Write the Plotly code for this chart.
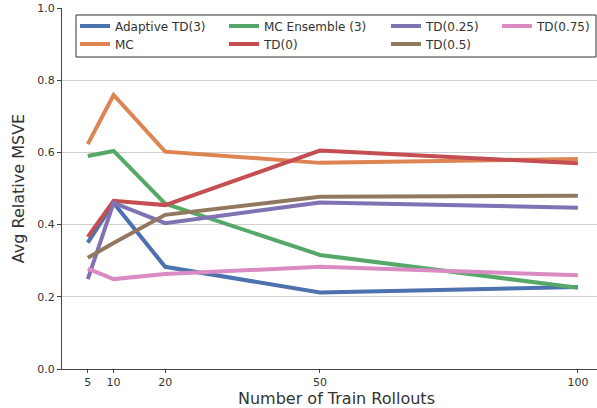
import plotly.graph_objects as go

# Number of training rollouts (x) and avg relative MSVE per method
rollouts = [5, 10, 20, 50, 100]

adaptive_td3 = [0.350, 0.460, 0.283, 0.212, 0.227]
mc = [0.623, 0.759, 0.602, 0.571, 0.582]
mc_ensemble3 = [0.590, 0.604, 0.458, 0.316, 0.225]
td0 = [0.366, 0.466, 0.454, 0.605, 0.570]
td025 = [0.249, 0.460, 0.404, 0.461, 0.447]
td05 = [0.308, 0.349, 0.427, 0.477, 0.480]
td075 = [0.278, 0.249, 0.263, 0.283, 0.260]

# name, values, colour, legend column, legend row
series = [
    ("Adaptive TD(3)", adaptive_td3, "#4C72B0", 0, 0),
    ("MC", mc, "#DD8452", 0, 1),
    ("MC Ensemble (3)", mc_ensemble3, "#55A868", 1, 0),
    ("TD(0)", td0, "#C44E52", 1, 1),
    ("TD(0.25)", td025, "#8172B3", 2, 0),
    ("TD(0.5)", td05, "#937860", 2, 1),
    ("TD(0.75)", td075, "#DA8BC3", 3, 0),
]

x_ticks = [5, 10, 20, 50, 100]
y_ticks = [0.0, 0.2, 0.4, 0.6, 0.8, 1.0]

TEXT = "#333333"
FONT = "DejaVu Sans"

W, H = 597, 408
L, R, T, B = 62, 0, 8, 39
pw, ph = W - L - R, H - T - B


def px_x(p):
    return (p - L) / pw


def px_y(p):
    return (H - B - p) / ph


# legend grid: left edge of each column and centre of each row (pixels)
col_px = [75, 224, 386, 497]
row_px = [26, 44]

fig = go.Figure()
legends = {}
for i, (name, vals, color, col, row) in enumerate(series):
    key = "legend" if i == 0 else f"legend{i + 1}"
    fig.add_trace(go.Scatter(
        x=rollouts, y=vals, mode="lines", name=name,
        line=dict(color=color, width=4),
        legend=key, showlegend=True,
    ))
    legends[key] = dict(
        x=px_x(col_px[col]), y=px_y(row_px[row]),
        xanchor="left", yanchor="middle", orientation="v",
        bgcolor="rgba(0,0,0,0)", borderwidth=0,
        font=dict(family=FONT, size=12, color=TEXT),
        itemwidth=30, visible=True,
    )

fig.update_layout(
    width=W, height=H,
    margin=dict(l=L, r=R, t=T, b=B),
    paper_bgcolor="white", plot_bgcolor="white",
    font=dict(family=FONT, color=TEXT),
    showlegend=True,
    xaxis=dict(
        range=[0, 103.7], tickvals=x_ticks, ticktext=[str(v) for v in x_ticks],
        showgrid=False, zeroline=False,
        showline=True, linecolor="#444444", linewidth=1.2,
        ticks="outside", ticklen=3, tickcolor="#444444",
        tickfont=dict(family=FONT, size=11, color=TEXT),
    ),
    yaxis=dict(
        range=[0, 1], tickvals=y_ticks, ticktext=[f"{v:.1f}" for v in y_ticks],
        showgrid=True, gridcolor="#d0d0d0", gridwidth=1, zeroline=False,
        showline=True, linecolor="#444444", linewidth=1.2,
        ticks="outside", ticklen=4, tickcolor="#444444",
        tickfont=dict(family=FONT, size=11, color=TEXT),
        title=dict(text="Avg Relative MSVE",
                   font=dict(family=FONT, size=16, color=TEXT), standoff=8),
    ),
    annotations=[dict(
        text="Number of Train Rollouts", xref="paper", yref="paper",
        x=px_x(336), y=px_y(388), xanchor="center", yanchor="top",
        showarrow=False, borderpad=0,
        font=dict(family=FONT, size=16, color=TEXT),
    )],
    shapes=[dict(
        type="rect", xref="paper", yref="paper",
        x0=px_x(76), x1=px_x(596), y0=px_y(57), y1=px_y(15),
        line=dict(color="#333333", width=1), fillcolor="white", layer="below",
    )],
    **legends,
)

fig.write_html("out.html")
